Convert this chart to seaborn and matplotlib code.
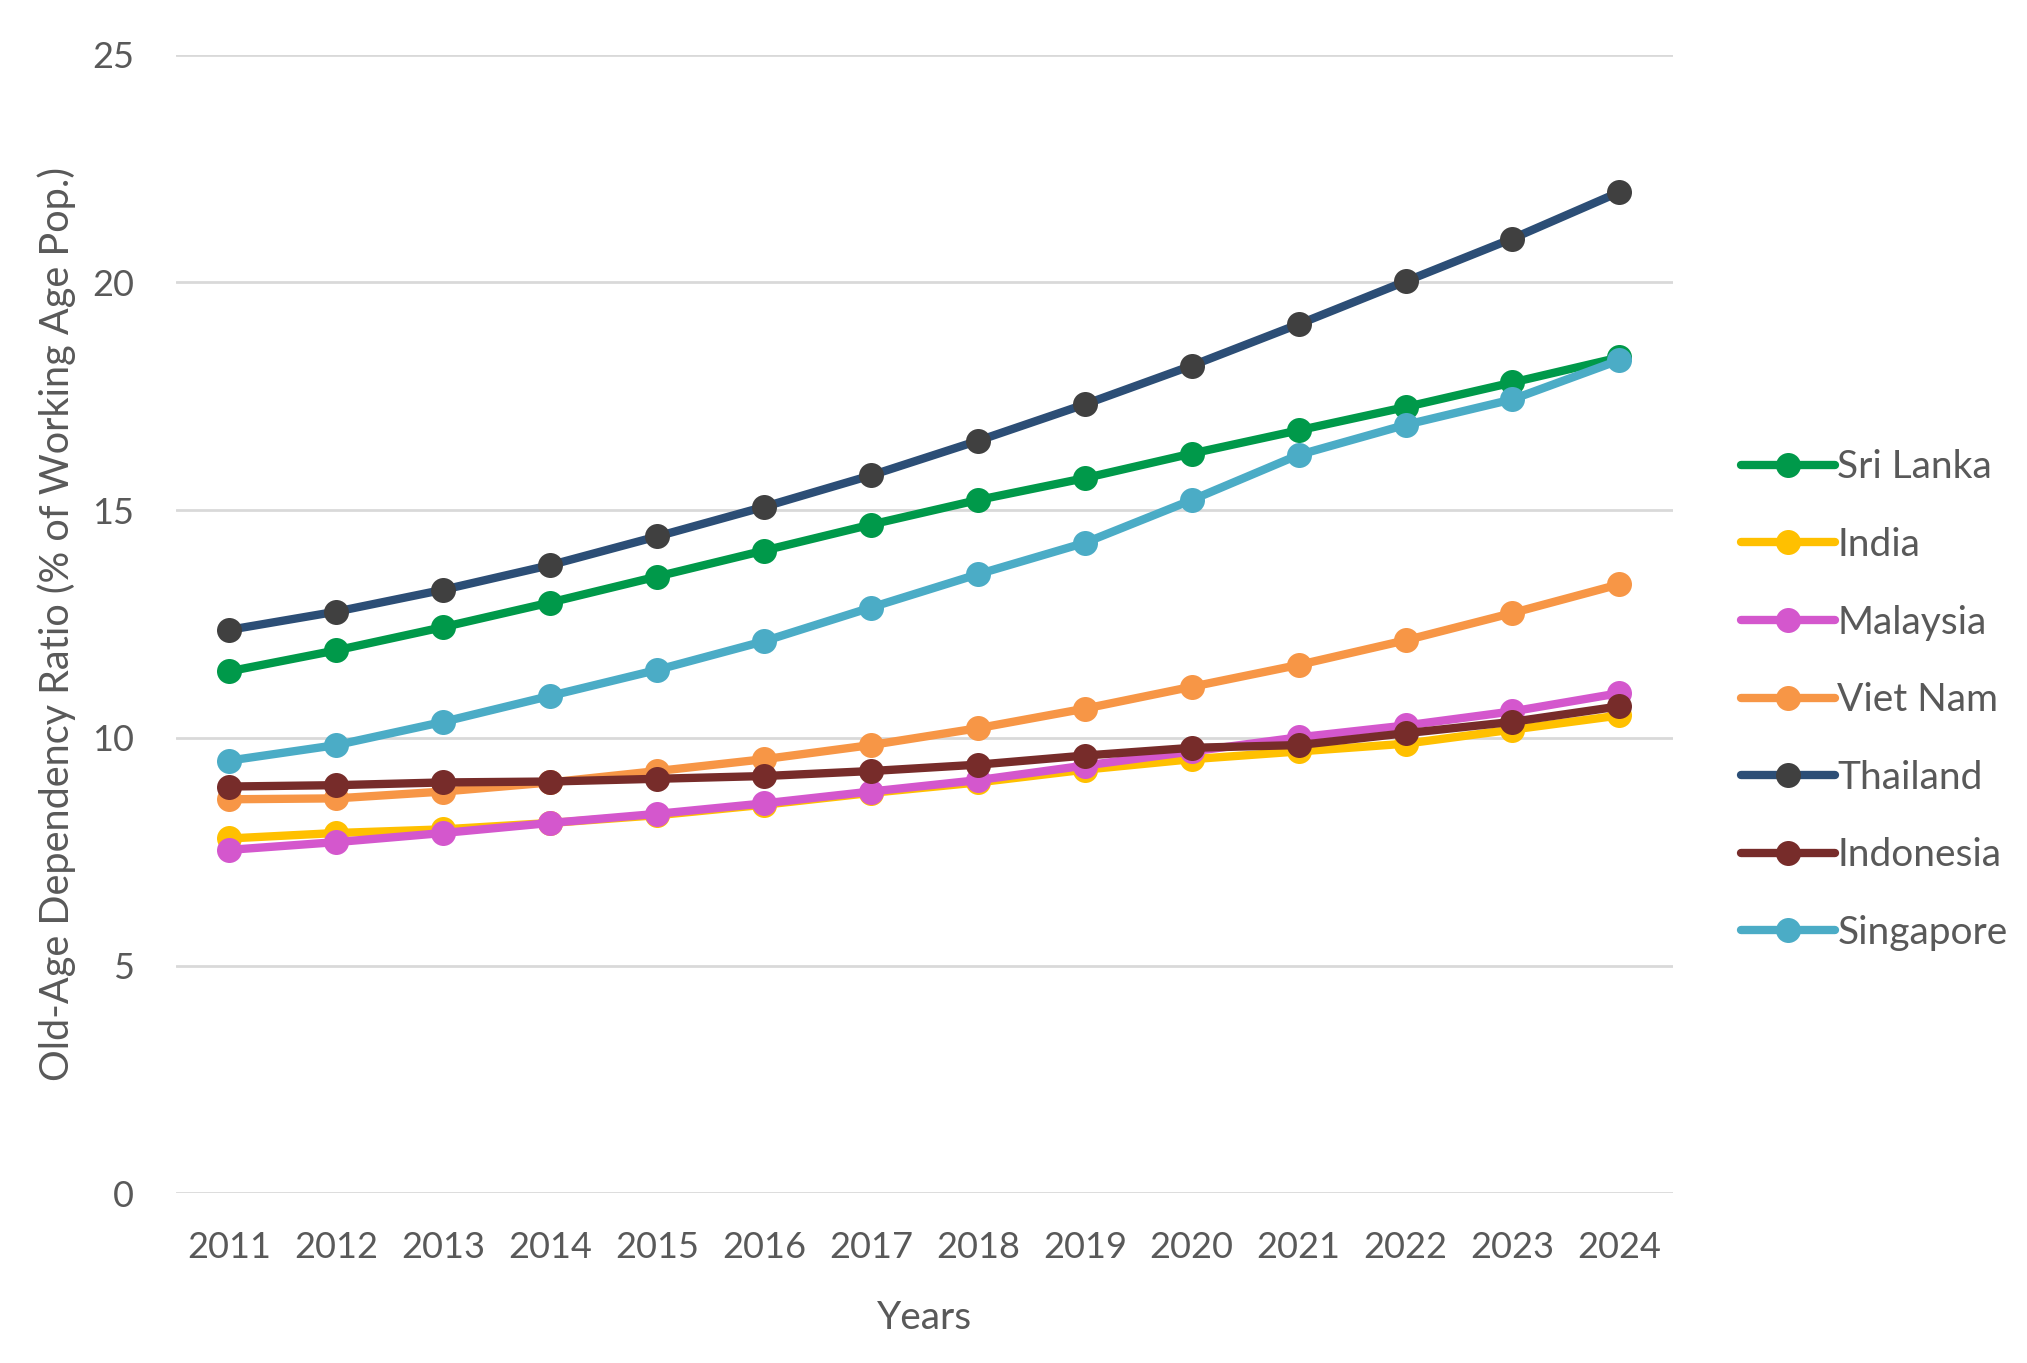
import matplotlib
matplotlib.use("Agg")
import matplotlib.pyplot as plt
import seaborn as sns
import pandas as pd

years = ["2011", "2012", "2013", "2014", "2015", "2016", "2017",
         "2018", "2019", "2020", "2021", "2022", "2023", "2024"]

sri_lanka = [11.46, 11.92, 12.43, 12.97, 13.54, 14.11, 14.68, 15.22, 15.70, 16.24, 16.75, 17.26, 17.80, 18.35]
india     = [7.79, 7.91, 7.99, 8.13, 8.30, 8.53, 8.79, 9.02, 9.30, 9.53, 9.70, 9.87, 10.18, 10.49]
malaysia  = [7.54, 7.71, 7.91, 8.13, 8.33, 8.56, 8.82, 9.07, 9.39, 9.70, 10.01, 10.27, 10.58, 10.98]
viet_nam  = [8.65, 8.67, 8.82, 9.02, 9.27, 9.53, 9.84, 10.21, 10.64, 11.12, 11.60, 12.14, 12.74, 13.37]
thailand  = [12.37, 12.77, 13.25, 13.79, 14.42, 15.07, 15.76, 16.52, 17.32, 18.17, 19.08, 20.02, 20.96, 21.98]
indonesia = [8.93, 8.96, 9.02, 9.04, 9.10, 9.16, 9.27, 9.41, 9.61, 9.78, 9.84, 10.10, 10.35, 10.69]
singapore = [9.50, 9.84, 10.35, 10.92, 11.49, 12.12, 12.86, 13.59, 14.28, 15.22, 16.21, 16.87, 17.43, 18.29]

countries = ["Sri Lanka", "India", "Malaysia", "Viet Nam", "Thailand", "Indonesia", "Singapore"]
series = [sri_lanka, india, malaysia, viet_nam, thailand, indonesia, singapore]
line_colors = ["#00994A", "#FFC000", "#D457CD", "#F79646", "#2C4E76", "#772C2A", "#4BACC6"]
marker_colors = ["#00994A", "#FFC000", "#D457CD", "#F79646", "#404040", "#772C2A", "#4BACC6"]

sns.set_theme(style="white")
plt.rcParams["font.family"] = ["Lato", "DejaVu Sans"]
text_color = "#595959"

fig = plt.figure(figsize=(20.27, 13.63), dpi=100)
ax = fig.add_axes([0.0868, 0.1245, 0.7385, 0.8355])

for name, vals, lc, mc in zip(countries, series, line_colors, marker_colors):
    df = pd.DataFrame({"Year": years, "Value": vals})
    sns.lineplot(data=df, x="Year", y="Value", ax=ax, color=lc, linewidth=6,
                 marker="o", markersize=18, markerfacecolor=mc, markeredgecolor=mc,
                 markeredgewidth=0, label=name, sort=False,
                 solid_capstyle="round")

ax.set_xlim(-0.5, len(years) - 0.5)
ax.set_ylim(0, 25)
ax.set_yticks([0, 5, 10, 15, 20, 25])
ax.grid(axis="y", color="#D9D9D9", linewidth=2)
ax.grid(axis="x", visible=False)
ax.set_axisbelow(True)
for s in ax.spines.values():
    s.set_visible(False)
ax.tick_params(axis="both", length=0, labelsize=26, colors=text_color)
ax.tick_params(axis="y", pad=30)
ax.tick_params(axis="x", pad=27)

ax.set_xlabel("Years", fontsize=28, color=text_color, labelpad=26)
ax.set_ylabel("Old-Age Dependency Ratio (% of Working Age Pop.)", fontsize=28.5,
              color=text_color, labelpad=12)

handles, labels = ax.get_legend_handles_labels()
leg = ax.legend(handles, labels, loc="center left", bbox_to_anchor=(1.035, 0.433),
                frameon=False, fontsize=28, handlelength=2.43, handletextpad=0.05,
                labelspacing=1.07, borderaxespad=0)
for t in leg.get_texts():
    t.set_color(text_color)

fig.savefig("out.png", dpi=100, facecolor="white")
